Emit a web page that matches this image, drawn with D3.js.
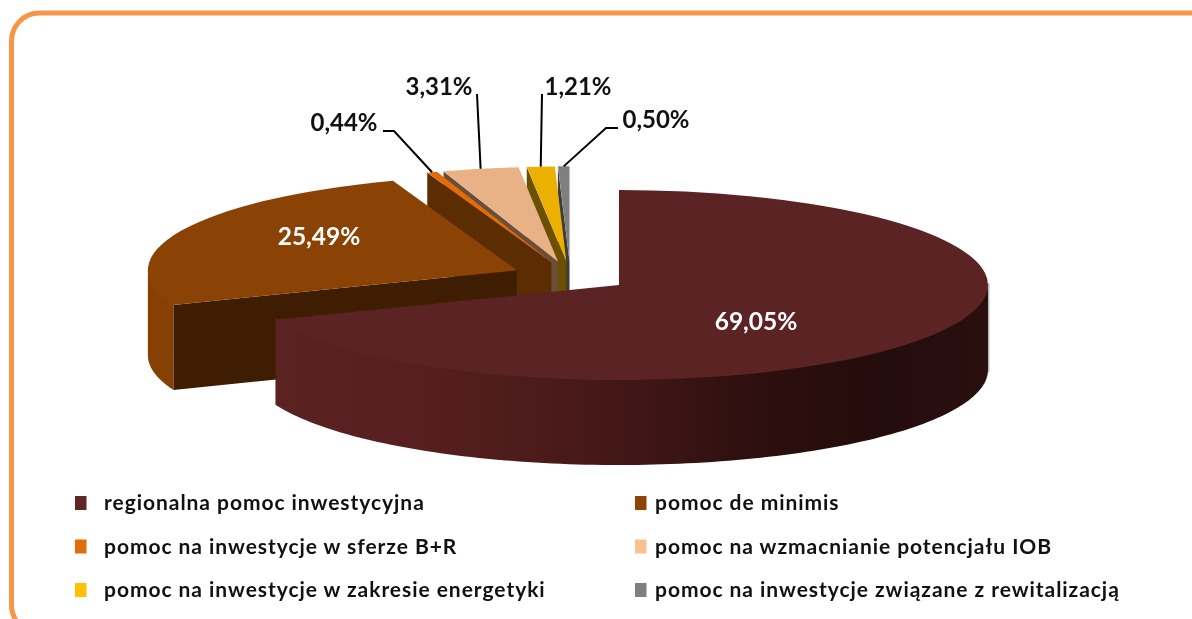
<!DOCTYPE html>
<html><head><meta charset="utf-8">
<style>html,body{margin:0;padding:0;background:#fff}svg{display:block}text{filter:blur(0.4px)}</style>
<script src="https://cdnjs.cloudflare.com/ajax/libs/d3/7.8.5/d3.min.js"></script>
</head><body><svg id="c" width="1192" height="619"></svg>
<script>
const categories = ["regionalna pomoc inwestycyjna","pomoc de minimis","pomoc na inwestycje w sferze B+R","pomoc na wzmacnianie potencjału IOB","pomoc na inwestycje w zakresie energetyki","pomoc na inwestycje związane z rewitalizacją"];
const values = [69.05,25.49,0.44,3.31,1.21,0.50];
const valueLabels = ["69,05%","25,49%","0,44%","3,31%","1,21%","0,50%"];
const topColors = ["#5b2323","#8b4205","#e36c0a","#e8b186","#ecb100","#7f7f7f"];
const faceColors = ["#3a1414","#3e1d02","#5c2c02","#6a4e38","#6a5000","#3c3c3c"];
const legendColors = ["#632523","#8f4405","#e36c0a","#fac090","#ffc000","#7f7f7f"];

const W=1192,H=619, cx=570.4, cy=276.5, rx=369, ry=95, depth=85, explode=58.8;
const svg=d3.select("#c");
svg.append("rect").attr("x",11.5).attr("y",13).attr("width",1206).attr("height",620).attr("rx",28).attr("ry",28)
  .attr("fill","#fff").attr("stroke","#f79646").attr("stroke-width",5);

const defs=svg.append("defs");
const g0=defs.append("linearGradient").attr("id","wall0").attr("gradientUnits","userSpaceOnUse").attr("x1",277).attr("x2",988).attr("y1",0).attr("y2",0);
[[0,"#5b2222"],[0.2,"#571f1f"],[0.45,"#461818"],[0.7,"#2c0e0e"],[0.85,"#250c0c"],[1,"#2a0f0f"]].forEach(s=>g0.append("stop").attr("offset",s[0]).attr("stop-color",s[1]));

const pie=d3.pie().sort(null).value(d=>d);
const arcs=pie(values);
const arc=d3.arc().innerRadius(0).outerRadius(1);
const sx=d3.scaleLinear().domain([0,1]).range([0,rx]);
const sy=d3.scaleLinear().domain([0,1]).range([0,ry]);
const apex=a=>{const m=(a.startAngle+a.endAngle)/2;return [cx+Math.sin(m)*explode, cy-Math.cos(m)*explode*ry/rx];};
const rim=(a,t)=>{const p=apex(a);return [p[0]+sx(Math.sin(t)),p[1]-sy(Math.cos(t))];};
const line=d3.line();

const re=rim(arcs[0],Math.PI/2);
svg.append("rect").attr("x",re[0]-1).attr("y",re[1]-2).attr("width",2.5).attr("height",depth+4).attr("fill","#bdb8b8");

[5,4,3,2,1,0].forEach(i=>{
  const a=arcs[i],p=apex(a);
  const g=svg.append("g");
  if(i>0){
    const o=rim(a,a.startAngle);
    g.append("path").attr("d",line([p,o,[o[0],o[1]+depth],[p[0],p[1]+depth]])).attr("fill",faceColors[i]);
  }
  const from=Math.max(a.startAngle,Math.PI/2), to=Math.min(a.endAngle,Math.PI*1.5);
  if(from<to){
    const ts=d3.range(0,121).map(k=>from+(to-from)*k/120);
    const up=ts.map(t=>{const q=rim(a,t);return [q[0],q[1]-1.5];});
    const dn=ts.slice().reverse().map(t=>{const q=rim(a,t);return [q[0],q[1]+depth];});
    g.append("path").attr("d",line(up.concat(dn))+"Z").attr("fill",i===0?"url(#wall0)":"#864004");
  }
  g.append("path").attr("transform",`translate(${p[0]},${p[1]}) scale(${rx},${ry})`).attr("d",arc(a)).attr("fill",topColors[i]);
});

const font="Lato, Carlito, sans-serif";
const inside=[[0,756,330],[1,319,245]];
inside.forEach(([i,x,y])=>svg.append("text").attr("x",x).attr("y",y).attr("text-anchor","middle").attr("font-family",font).attr("font-weight",700).attr("font-size",24.5).attr("fill","#fff").text(valueLabels[i]));

const outer=[[2,[[383,131],[394,131]],344,131],[3,[[477,94]],439,95],[4,[[542,94]],578,95],[5,[[618,128],[606,128]],656,128]];
outer.forEach(([i,pts,x,y])=>{
  const a=arcs[i],m=(a.startAngle+a.endAngle)/2;
  svg.append("path").attr("d",line(pts.concat([rim(a,m)]))).attr("fill","none").attr("stroke","#000").attr("stroke-width",2);
  svg.append("text").attr("x",x).attr("y",y).attr("text-anchor","middle").attr("font-family",font).attr("font-weight",700).attr("font-size",24).attr("fill","#111").text(valueLabels[i]);
});

const colX=d3.scalePoint().domain([0,1]).range([75,635]);
const rowY=d3.scalePoint().domain([0,1,2]).range([503,590]);
categories.forEach((c,i)=>{
  const col=i%2,row=Math.floor(i/2),x=colX(col),y=rowY(row);
  svg.append("rect").attr("x",x).attr("y",y-7).attr("width",11.5).attr("height",14).attr("fill",legendColors[i]);
  svg.append("text").attr("x",x+(col?20:29)).attr("y",y+7).attr("font-family",font).attr("font-weight",700).attr("font-size",21).attr("letter-spacing",0.95).attr("fill","#111").text(c);
});
</script></body></html>
